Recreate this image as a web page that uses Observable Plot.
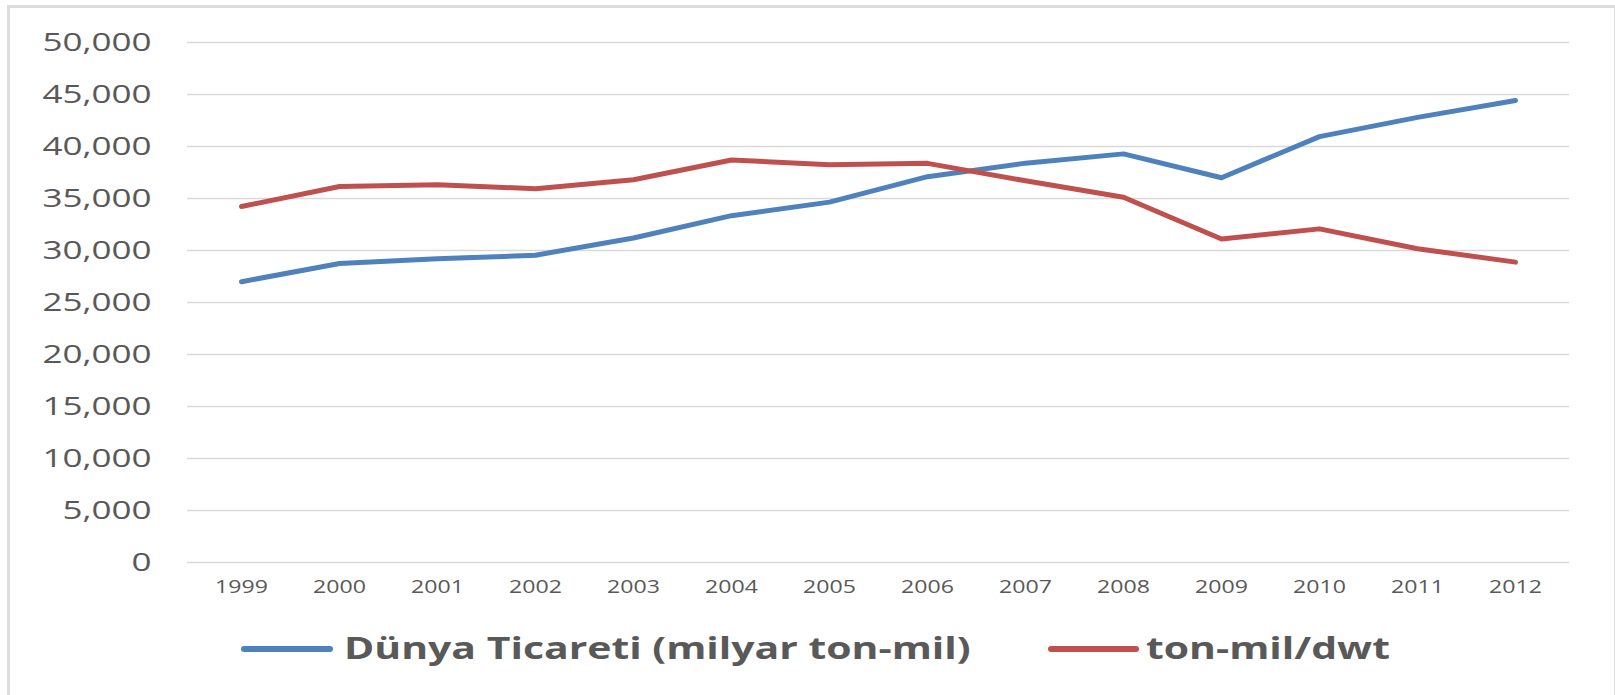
<!DOCTYPE html>
<html><head><meta charset="utf-8">
<script src="https://cdn.jsdelivr.net/npm/d3@7"></script>
<script src="https://cdn.jsdelivr.net/npm/@observablehq/plot@0.6"></script>
<style>
html,body{margin:0;padding:0;background:#fff;}
#wrap{position:relative;width:1615px;height:695px;overflow:hidden;font-family:"Open Sans",sans-serif;}
#frame{position:absolute;left:7px;top:5px;width:1610px;height:720px;border:3px solid #dcdcdc;box-sizing:border-box;}
#chart{position:absolute;left:0;top:0;}
.sw{position:absolute;height:6px;border-radius:3px;top:646px;}
.lt{position:absolute;top:632px;font-weight:700;font-size:31px;line-height:31px;color:#595959;white-space:nowrap;transform-origin:0 50%;display:inline-block;}
</style>
</head><body>
<div id="wrap">
  <div id="frame"></div>
  <div id="chart"></div>
  <div id="legend"></div>
</div>
<script>
const years = ["1999","2000","2001","2002","2003","2004","2005","2006","2007","2008","2009","2010","2011","2012"];
const worldTrade = [27000, 28750, 29200, 29550, 31200, 33350, 34650, 37100, 38400, 39290, 37000, 40950, 42800, 44420];
const tonMilDwt = [34230, 36150, 36330, 35940, 36800, 38700, 38250, 38380, 36700, 35120, 31110, 32080, 30170, 28880];
const seriesNames = ["Dünya Ticareti (milyar ton-mil)", "ton-mil/dwt"];
const seriesColors = ["#4F81BD", "#C0504D"];
const yTicks = [0, 5000, 10000, 15000, 20000, 25000, 30000, 35000, 40000, 45000, 50000];

const data = [];
years.forEach((yr, i) => {
  data.push({year: yr, value: worldTrade[i], series: seriesNames[0]});
});
years.forEach((yr, i) => {
  data.push({year: yr, value: tonMilDwt[i], series: seriesNames[1]});
});

const chart = Plot.plot({
  width: 1615,
  height: 610,
  marginLeft: 187,
  marginRight: 46,
  marginTop: 42,
  marginBottom: 48,
  style: {fontFamily: "'Open Sans', sans-serif", color: "#595959", background: "transparent", overflow: "visible"},
  x: {type: "point", domain: years, padding: 0.5},
  y: {domain: [0, 50000]},
  color: {domain: seriesNames, range: seriesColors},
  marks: [
    Plot.gridY(yTicks, {stroke: "#d9d9d9", strokeOpacity: 1, strokeWidth: 1.6}),
    Plot.axisY(yTicks, {tickSize: 0, tickPadding: 36, tickFormat: d3.format(","), fontSize: 25, fill: "#595959", label: null}),
    Plot.axisX({tickSize: 0, tickPadding: 18, fontSize: 17.5, fill: "#595959", label: null}),
    Plot.line(data, {x: "year", y: "value", z: "series", stroke: "series", strokeWidth: 5, strokeLinecap: "round", strokeLinejoin: "round"})
  ]
});
document.getElementById("chart").appendChild(chart);

function stretch(sel, k) {
  d3.select(chart).selectAll(sel).each(function() {
    const len = this.getComputedTextLength();
    this.setAttribute("textLength", len * k);
    this.setAttribute("lengthAdjust", "spacingAndGlyphs");
  });
}
stretch('g[aria-label="y-axis tick label"] text', 1.4);
stretch('g[aria-label="x-axis tick label"] text', 1.32);

const legend = document.getElementById("legend");
const legPos = [{sw: 241, swW: 92, tx: 344}, {sw: 1048, swW: 91, tx: 1146}];
seriesNames.forEach((name, i) => {
  const sw = document.createElement("div");
  sw.className = "sw";
  sw.style.left = legPos[i].sw + "px";
  sw.style.width = legPos[i].swW + "px";
  sw.style.background = seriesColors[i];
  legend.appendChild(sw);
  const t = document.createElement("span");
  t.className = "lt";
  t.style.left = legPos[i].tx + "px";
  t.textContent = name;
  t.style.transform = "scaleX(1.32)";
  legend.appendChild(t);
});
</script>
</body></html>
